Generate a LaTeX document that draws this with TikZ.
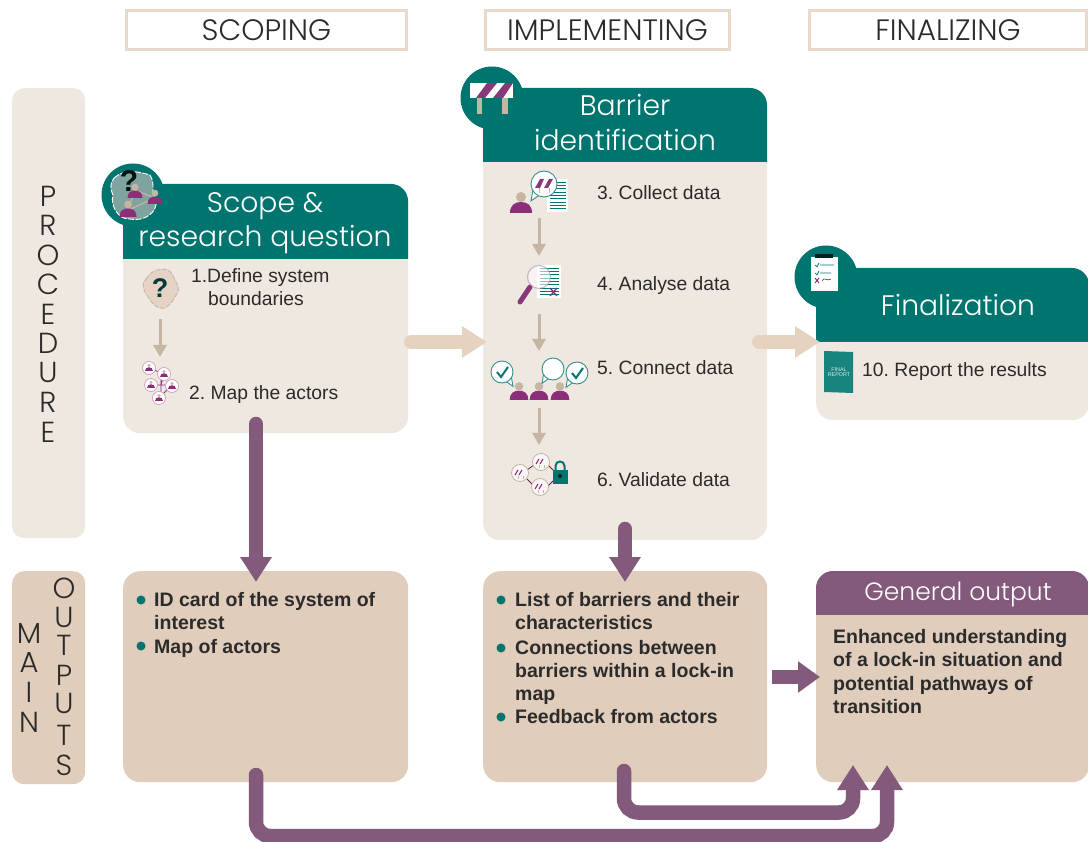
\documentclass[tikz,border=0pt]{standalone}
\usepackage{fontspec}
\setmainfont{Liberation Sans}
\newfontfamily\hdfont{Poppins Light}
\usetikzlibrary{arrows.meta,shapes.geometric,positioning,calc}
\AtBeginDocument{\frenchspacing}
\definecolor{teal1}{HTML}{00756F}
\definecolor{bodyc}{HTML}{EFE8E0}
\definecolor{outc}{HTML}{E0CDBB}
\definecolor{purp}{HTML}{835A7C}
\definecolor{deepp}{HTML}{8A2F78}
\definecolor{peach}{HTML}{E5D3C0}
\definecolor{tanar}{HTML}{C6B5A3}
\definecolor{headb}{HTML}{E9D9CB}
\definecolor{headc}{HTML}{7FA39E}
\definecolor{txt}{HTML}{2B2B2B}
\newcommand{\fpx}[1]{\fontsize{#1}{#1}\selectfont}
\tikzset{
  x=1pt,y=-1pt,
  phase/.style={draw=headb,line width=3pt,fill=white,anchor=north west,inner sep=0pt,text=txt,font=\hdfont\fpx{29.5},align=center},
  sidepanel/.style={rounded corners=12pt,anchor=north west,inner sep=0pt,minimum width=73pt},
  card/.style={rounded corners=17pt,anchor=north west,inner sep=0pt},
  bodytext/.style={anchor=base west,text=txt,font=\fpx{19.3},inner sep=0pt},
  boldtext/.style={anchor=base west,text=txt,font=\bfseries\fpx{19.5},inner sep=0pt},
  headtext/.style={anchor=base,text=white,font=\hdfont\fpx{28.2},inner sep=0pt},
  vletter/.style={text=txt,font=\hdfont\fpx{29},inner sep=0pt},
  bullet/.style={circle,fill=teal1,minimum size=9pt,inner sep=0pt},
  bigarrow/.style={line width=14.5pt,color=purp,line cap=round,-{Triangle[width=30pt,length=25pt]}},
  peacharrow/.style={line width=14pt,color=peach,line cap=round,-{Triangle[width=30pt,length=25pt]}},
  smallarrow/.style={line width=3pt,color=tanar,-{Triangle[width=13pt,length=12pt]}},
  badge/.style={circle,fill=teal1,minimum size=63pt,inner sep=0pt},
}
\newcommand{\personicon}[3]{%
  \begin{scope}[shift={(#1,#2)},scale=#3]
    \fill[deepp] (-11,0) .. controls (-11,-8) and (-6,-11) .. (0,-11) .. controls (6,-11) and (11,-8) .. (11,0) -- cycle;
    \fill[tanar] (0,-16) circle[radius=5];
  \end{scope}}
\newcommand{\docicon}[4]{%
  \fill[white] (#1,#2) rectangle (#3,#4);
  \foreach \t in {0.1,0.2,...,0.95}{\draw[teal1,line width=.9pt] ($(#1,#2)!\t!(#1,#4)+(2.5,0)$) -- ($(#3,#2)!\t!(#3,#4)+(-2.5,0)$);}%
}
% speech bubble: x y tailsign radius content
\newcommand{\bubbleicon}[5]{%
  \begin{scope}[shift={(#1,#2)}]
    \path[draw=teal1!80,line width=.9pt,fill=white] (#3*#4*.35,#4*.85) -- (#3*#4,#4*1.3) -- (#3*#4*.85,#4*.45) -- cycle;
    \fill[white,draw=teal1!80,line width=.9pt] (0,0) circle[radius=#4];
    \fill[white] (#3*#4*.35,#4*.75) -- (#3*#4*.8,#4*.45) -- (#3*#4*.5,#4*.3) -- cycle;
    #5
  \end{scope}}
\newcommand{\tickmark}{\draw[teal1,line width=2pt] (-5,0) -- (-1,5) -- (6,-5);}
\newcommand{\actorcirc}[2]{%
  \fill[white,draw=deepp!45,line width=.7pt] (#1,#2) circle[radius=6.5];
  \fill[deepp] (#1-4,#2+3) .. controls (#1-4,#2-2) and (#1+4,#2-2) .. (#1+4,#2+3) -- cycle;
  \fill[tanar] (#1,#2-2.5) circle[radius=1.6];}
\newcommand{\barcirc}[2]{%
  \fill[white!70!bodyc,draw=tanar,line width=.8pt] (#1,#2) circle[radius=8.5];
  \draw[deepp,line width=1.1pt] (#1-5,#2+2) -- (#1-2,#2-3) (#1-1,#2+2) -- (#1+2,#2-3);
  \draw[tanar,line width=.8pt] (#1-2,#2+3) -- (#1-2,#2+6) (#1+3,#2+3) -- (#1+3,#2+6);}
\begin{document}
\begin{tikzpicture}
\useasboundingbox (0,0) rectangle (1088,842);
\clip (0,0) rectangle (1088,842);
\fill[white] (0,0) rectangle (1088,842);
% phases
\node[phase,minimum width=280pt,minimum height=39pt] (scoping) at (125,9) {SCOPING};
\node[phase,minimum width=244pt,minimum height=39pt] (implementing) at (484,9) {IMPLEMENTING};
\node[phase,minimum width=277pt,minimum height=39pt] (finalizing) at (808,9) {FINALIZING};
% side panels
\node[sidepanel,fill=bodyc,minimum height=450pt] (procpanel) at (12,88) {};
\node[sidepanel,fill=outc,minimum height=213pt] (outpanel) at (12,571) {};
\foreach \l/\yy [count=\i] in {P/196,R/225,O/255,C/284,E/314,D/343,U/372,R/402,E/432}
  \node[vletter] (proc\i) at (48,\yy) {\l};
\foreach \l/\yy [count=\i] in {M/633,A/662,I/692,N/722}
  \node[vletter] (main\i) at (29,\yy) {\l};
\foreach \l/\yy [count=\i] in {O/588,U/617,T/645,P/675,U/703,T/735,S/765}
  \node[vletter] (outl\i) at (64,\yy) {\l};
% procedure cards
\node[card,fill=bodyc,minimum width=285pt,minimum height=249pt] (scopecard) at (123,184) {};
\node[card,fill=bodyc,minimum width=284pt,minimum height=452pt] (barriercard) at (483,88) {};
\node[card,fill=bodyc,minimum width=273pt,minimum height=152pt] (fincard) at (816,268) {};
% headers
\begin{scope}\clip (123,184) rectangle (408,259);
  \fill[teal1,rounded corners=17pt] (110,184) rectangle (408,300);\end{scope}
\begin{scope}\clip (483,88) rectangle (767,162);
  \fill[teal1,rounded corners=17pt] (470,88) rectangle (767,200);\end{scope}
\begin{scope}\clip (816,268) rectangle (1089,342);
  \fill[teal1,rounded corners=17pt] (800,268) rectangle (1089,400);\end{scope}
\node[badge] (badge1) at (133,195) {};
\node[badge] (badge2) at (492,98) {};
\node[badge] (badge3) at (826,277) {};
\node[headtext] (h1a) at (265,213) {Scope \&};
\node[headtext] (h1b) at (265,247) {research question};
\node[headtext] (h2a) at (625,116) {Barrier};
\node[headtext] (h2b) at (625,151) {identification};
\node[headtext] (h3) at (958,316) {Finalization};
% output cards
\node[card,fill=outc,minimum width=285pt,minimum height=211pt] (out1) at (123,571) {};
\node[card,fill=outc,minimum width=284pt,minimum height=211pt] (out2) at (483,571) {};
\node[card,fill=outc,minimum width=273pt,minimum height=211pt] (out3) at (816,571) {};
\begin{scope}\clip (816,571) rectangle (1089,614);
  \fill[purp,rounded corners=17pt] (816,571) rectangle (1089,660);\end{scope}
\node[headtext,font=\hdfont\fpx{25}] (gen) at (958,600) {General output};
% step text
\node[bodytext] (s1n) at (191,283) {1.};
\node[bodytext] (s1a) at (207,283) {Define system};
\node[bodytext] (s1b) at (208,306) {boundaries};
\node[bodytext] (s2) at (189,400) {2. Map the actors};
\node[bodytext] (s3) at (597,200) {3. Collect data};
\node[bodytext] (s4) at (597,291) {4. Analyse data};
\node[bodytext] (s5) at (597,375) {5. Connect data};
\node[bodytext] (s6) at (597,486) {6. Validate data};
\node[bodytext] (s10) at (862,377) {10. Report the results};
% output text
\node[bullet] (b1) at (141,600) {};
\node[bullet] (b2) at (141,646) {};
\node[boldtext] (o1a) at (154,606) {ID card of the system of};
\node[boldtext] (o1b) at (154,629) {interest};
\node[boldtext] (o1c) at (154,653) {Map of actors};
\node[bullet] (b3) at (501,600) {};
\node[bullet] (b4) at (501,648) {};
\node[bullet] (b5) at (501,717) {};
\node[boldtext] (o2a) at (515,606) {List of barriers and their};
\node[boldtext] (o2b) at (515,629) {characteristics};
\node[boldtext] (o2c) at (515,654) {Connections between};
\node[boldtext] (o2d) at (515,677) {barriers within a lock-in};
\node[boldtext] (o2e) at (515,700) {map};
\node[boldtext] (o2f) at (515,723) {Feedback from actors};
\node[boldtext] (o3a) at (833,643) {Enhanced understanding};
\node[boldtext] (o3b) at (833,666) {of a lock-in situation and};
\node[boldtext] (o3c) at (833,690) {potential pathways of};
\node[boldtext] (o3d) at (833,713) {transition};
% connector ends
\coordinate (a1s) at (411,342); \coordinate (a1e) at (487,342);
\coordinate (a2s) at (759,342); \coordinate (a2e) at (820,342);
\coordinate (a3s) at (256,424); \coordinate (a3e) at (256,582);
\coordinate (a4s) at (625,529); \coordinate (a4e) at (625,582);
\coordinate (a5s) at (772,677); \coordinate (a5e) at (820,677);
\coordinate (a6s) at (624,771); \coordinate (a6c1) at (624,812.5); \coordinate (a6c2) at (853,812.5); \coordinate (a6e) at (853,765);
\coordinate (a7s) at (256,775); \coordinate (a7c1) at (256,836); \coordinate (a7c2) at (887,836); \coordinate (a7e) at (887,765);
\draw[peacharrow] (a1s) -- (a1e);
\draw[peacharrow] (a2s) -- (a2e);
\draw[bigarrow] (a3s) -- (a3e);
\draw[bigarrow] (a4s) -- (a4e);
\draw[line width=14.5pt,color=purp,-{Triangle[width=30pt,length=22pt]}] (a5s) -- (a5e);
\draw[bigarrow,rounded corners=14pt] (a6s) -- (a6c1) -- (a6c2) -- (a6e);
\draw[bigarrow,rounded corners=14pt] (a7s) -- (a7c1) -- (a7c2) -- (a7e);
% small arrows
\coordinate (t1s) at (160,319); \coordinate (t1e) at (160,357);
\coordinate (t2s) at (539,218); \coordinate (t2e) at (539,256);
\coordinate (t3s) at (539,314); \coordinate (t3e) at (539,351);
\coordinate (t4s) at (539,408); \coordinate (t4e) at (539,445);
\foreach \p in {1,2,3,4} \draw[smallarrow] (t\p s) -- (t\p e);
% icon: scope badge
\path[fill=headc,draw=white,dash pattern=on 6pt off 1.5pt,line width=.9pt] (114,178) .. controls (125,168) and (140,172) .. (150,175) .. controls (156,185) and (150,192) .. (156,200) .. controls (158,212) and (145,222) .. (130,219) .. controls (118,220) and (110,205) .. (113,195) .. controls (110,188) and (110,184) .. (114,178) -- cycle;
\draw[tanar,line width=1.2pt] (135,190) -- (155,198) (135,190) -- (128,210) (128,210) -- (155,198);
\personicon{135}{198}{.68}
\personicon{155}{204}{.68}
\personicon{128}{217}{.78}
\node[inner sep=0pt,font=\bfseries\fpx{30},text=black!85!teal1] (q1) at (129,181) {?};
% icon: boundary
\path[fill=outc!85!white,draw=tanar,dash pattern=on 5pt off 1.5pt,line width=.9pt] (146,279) .. controls (152,268) and (168,266) .. (172,274) .. controls (176,282) and (180,288) .. (178,292) .. controls (174,298) and (172,304) .. (165,308) .. controls (155,310) and (150,300) .. (145,292) .. controls (142,286) and (143,282) .. (146,279) -- cycle;
\node[inner sep=0pt,font=\bfseries\fpx{27},text=teal1!50!black] (q2) at (160,288) {?};
% icon: actor map
\draw[deepp,line width=.8pt] (149,368) -- (164,374) (164,374) -- (161,385) (151,385) -- (172,385) (161,378) -- (161,392) (161,392) -- (159,398) (172,385) -- (159,398);
\actorcirc{149}{368}\actorcirc{164}{374}\actorcirc{151}{385}\actorcirc{172}{386}\actorcirc{159}{398}
% icon: barrier sign
\fill[tanar] (477,97) rectangle (482,114);
\fill[tanar] (502,97) rectangle (508,114);
\fill[white] (470,83) rectangle (513,98);
\fill[deepp!80!purp] (476,98) -- (487,83) -- (497,83) -- (485,98) -- cycle;
\fill[deepp!80!purp] (493,98) -- (505,83) -- (513,83) -- (503,98) -- cycle;
% icon: collect
\docicon{547}{179}{568}{212}
\personicon{521}{213}{1}
\bubbleicon{544}{184}{-1}{13}{
  \fill[white] (-10,-5) rectangle (10,4);
  \fill[deepp!80!purp] (-9,4) -- (-4,-5) -- (0,-5) -- (-4,4) -- cycle;
  \fill[deepp!80!purp] (0,4) -- (5,-5) -- (9,-5) -- (4,4) -- cycle;
  \draw[tanar,line width=1pt] (-5,4) -- (-5,9) (5,4) -- (5,9);}
% icon: analyse
\docicon{537}{265}{561}{298}
\draw[deepp,line width=1.3pt] (550,288) -- (557,296) (557,288) -- (550,296);
\draw[deepp!80!purp,line width=5pt,line cap=round] (530,287) -- (520,302);
\fill[white,opacity=.55,draw=purp!70,line width=1.2pt] (539,277) circle[radius=11.5];
% icon: connect
\personicon{519}{400}{.85}
\personicon{539}{400}{.85}
\personicon{560}{400}{.85}
\bubbleicon{502}{372}{1}{11}{\tickmark}
\bubbleicon{553}{369}{-1}{11}{}
\bubbleicon{577}{373}{-1}{11}{\tickmark}
% icon: validate
\draw[deepp!70!black,line width=.8pt] (527,470) -- (534,465) (527,479) -- (534,486) (548,465) -- (553,470) (548,486) -- (553,481);
\barcirc{520}{473}\barcirc{541}{462}\barcirc{540}{487}
\fill[teal1,draw=teal1] (553,470) rectangle (567,483);
\draw[teal1,line width=2pt] (555.5,470) -- (555.5,466) .. controls (555.5,460) and (564.5,460) .. (564.5,466) -- (564.5,470);
\fill[black!70!teal1] (560,476) circle[radius=2];
% icon: clipboard
\fill[white] (811,257) rectangle (838,291);
\fill[black!70!teal1] (815,254) rectangle (833,258);
\draw[teal1,line width=.7pt] (815,265) -- (817,267) -- (819,263) (820,265) -- (834,265);
\draw[teal1,line width=.7pt] (815,273) -- (817,275) -- (819,271) (820,273) -- (831,273);
\draw[deepp,line width=.9pt] (815,278) -- (819,283) (819,278) -- (815,283);
\draw[black!70,line width=.7pt] (822,281) .. controls (825,276) and (826,282) .. (831,279);
% icon: report
\fill[teal1!90!white] (824,351) -- (853,352) -- (853,393) -- (824,392) -- cycle;
\node[inner sep=0pt,align=center,text=white!85!teal1,font=\fpx{5.4}] (rep) at (839,372) {FINAL\\[-.5pt]REPORT};
\end{tikzpicture}
\end{document}
